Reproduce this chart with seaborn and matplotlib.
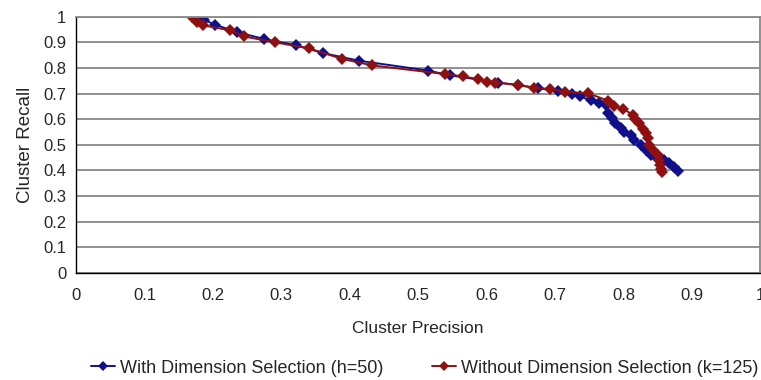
import seaborn as sns
import matplotlib
matplotlib.use("Agg")
import matplotlib.pyplot as plt
import pandas as pd

# precision / recall points
with_dim_x = [0.172, 0.187, 0.203, 0.235, 0.275, 0.321, 0.361, 0.414, 0.514, 0.547,
              0.616, 0.646, 0.675, 0.704, 0.725, 0.736, 0.752, 0.765, 0.774, 0.778,
              0.784, 0.788, 0.796, 0.801, 0.811, 0.816, 0.826, 0.833, 0.840, 0.850,
              0.860, 0.867, 0.874, 0.880]
with_dim_y = [0.995, 0.988, 0.969, 0.940, 0.913, 0.889, 0.858, 0.828, 0.790, 0.771,
              0.743, 0.733, 0.721, 0.710, 0.700, 0.690, 0.673, 0.664, 0.656, 0.625,
              0.606, 0.585, 0.565, 0.548, 0.539, 0.520, 0.500, 0.480, 0.461, 0.444,
              0.440, 0.428, 0.412, 0.398]

without_dim_x = [0.170, 0.177, 0.186, 0.225, 0.245, 0.291, 0.341, 0.389, 0.433, 0.539,
                 0.566, 0.588, 0.600, 0.613, 0.646, 0.670, 0.692, 0.715, 0.748, 0.778,
                 0.786, 0.800, 0.814, 0.817, 0.823, 0.828, 0.833, 0.836, 0.838, 0.843,
                 0.850, 0.852, 0.854, 0.855, 0.856]
without_dim_y = [1.000, 0.980, 0.966, 0.947, 0.923, 0.900, 0.876, 0.835, 0.810, 0.776,
                 0.767, 0.756, 0.747, 0.743, 0.734, 0.722, 0.718, 0.707, 0.701, 0.672,
                 0.652, 0.639, 0.617, 0.600, 0.585, 0.561, 0.546, 0.526, 0.500, 0.480,
                 0.461, 0.441, 0.422, 0.405, 0.393]

labels = ["With Dimension Selection (h=50)", "Without Dimension Selection (k=125)"]
colors = ["#10108a", "#8e1010"]
tick_labels = ["0", "0.1", "0.2", "0.3", "0.4", "0.5", "0.6", "0.7", "0.8", "0.9", "1"]

sns.set_style("white")
plt.rcParams["font.family"] = ["Liberation Sans", "DejaVu Sans"]

df_with = pd.DataFrame({"precision": with_dim_x, "recall": with_dim_y})
df_without = pd.DataFrame({"precision": without_dim_x, "recall": without_dim_y})

fig, ax = plt.subplots(figsize=(7.61, 3.80), dpi=100)
fig.subplots_adjust(left=0.100, right=0.999, bottom=0.282, top=0.956)

sns.lineplot(data=df_with, x="precision", y="recall", sort=False, ax=ax,
             color=colors[0], marker="D", markersize=6, markeredgewidth=0,
             linewidth=1.4, label=labels[0])
sns.lineplot(data=df_without, x="precision", y="recall", sort=False, ax=ax,
             color=colors[1], marker="D", markersize=6, markeredgewidth=0,
             linewidth=1.4, label=labels[1])

ax.set_xlim(0, 1)
ax.set_ylim(0, 1)
ax.set_xticks([i / 10 for i in range(11)])
ax.set_yticks([i / 10 for i in range(11)])
ax.set_xticklabels(tick_labels)
ax.set_yticklabels(tick_labels)
ax.grid(axis="y", color="#888888", linewidth=1.3)
ax.set_axisbelow(True)
ax.tick_params(axis="x", direction="in", length=4, width=1, labelsize=12, pad=11, color="black")
ax.tick_params(axis="y", direction="in", length=4, width=1, labelsize=12, pad=7, color="black")

for side in ["left", "bottom"]:
    ax.spines[side].set_color("black")
    ax.spines[side].set_linewidth(1.0)
for side in ["top", "right"]:
    ax.spines[side].set_color("#888888")
    ax.spines[side].set_linewidth(1.3)

ax.set_xlabel("Cluster Precision", fontsize=12.5, labelpad=13)
ax.set_ylabel("Cluster Recall", fontsize=13.5, labelpad=7)

ax.legend(loc="upper center", bbox_to_anchor=(0.51, -0.275), ncol=2, frameon=False,
          fontsize=13, handlelength=1.3, handletextpad=0.3, columnspacing=2.7,
          markerscale=0.85)

fig.savefig("out.png", dpi=100)
